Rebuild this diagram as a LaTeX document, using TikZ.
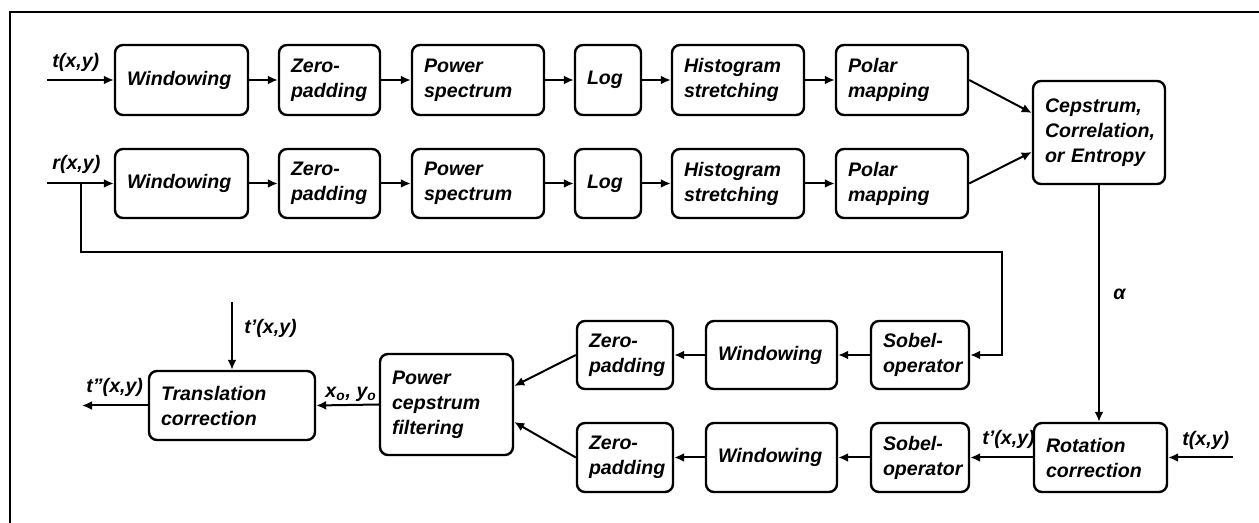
\documentclass[tikz,border=0pt]{standalone}
\usepackage{fontspec}
\setmainfont{Liberation Sans}
\usetikzlibrary{arrows.meta,calc}
\begin{document}
\begin{tikzpicture}[x=0.5pt,y=-0.5pt,
  font=\fontsize{9.8}{12.5}\selectfont\bfseries\itshape,
  box/.style={draw, line width=1.2pt, rounded corners=4pt, align=left, inner xsep=6pt, inner ysep=0pt},
  arr/.style={line width=1pt, -{Latex[length=5pt,width=4.5pt]}},
  lab/.style={anchor=base west, inner sep=0pt}]
\useasboundingbox (0,0) rectangle (1259,523);
\draw[line width=1pt] (10,523) -- (10,12) -- (1259,12);
% row 1
\node[box, text width=54.5pt, minimum height=35pt] (w1) at (181.5,80) {Windowing};
\node[box, text width=38.5pt, minimum height=35pt] (z1) at (329.5,80) {Zero-\\padding};
\node[box, text width=54pt, minimum height=35pt] (p1) at (478,80) {Power\\spectrum};
\node[box, text width=21pt, minimum height=35pt] (l1) at (608,80) {Log};
\node[box, text width=54pt, minimum height=35pt] (h1) at (738,80) {Histogram\\stretching};
\node[box, text width=54pt, minimum height=35pt] (m1) at (902,80) {Polar\\mapping};
% row 2
\node[box, text width=54.5pt, minimum height=34.5pt] (w2) at (181.5,183.5) {Windowing};
\node[box, text width=38.5pt, minimum height=34.5pt] (z2) at (329.5,183.5) {Zero-\\padding};
\node[box, text width=54pt, minimum height=34.5pt] (p2) at (478,183.5) {Power\\spectrum};
\node[box, text width=21pt, minimum height=34.5pt] (l2) at (608,183.5) {Log};
\node[box, text width=54pt, minimum height=34.5pt] (h2) at (738,183.5) {Histogram\\stretching};
\node[box, text width=54pt, minimum height=34.5pt] (m2) at (902,183.5) {Polar\\mapping};
\node[box, text width=54pt, minimum height=51.5pt] (cep) at (1099,132.5) {Cepstrum,\\Correlation,\\or Entropy};
% row 3
\node[box, text width=37pt, minimum height=34pt] (s1) at (920,355) {Sobel-\\operator};
\node[box, text width=53.5pt, minimum height=34pt] (wi3) at (771.5,355) {Windowing};
\node[box, text width=36pt, minimum height=34pt] (z3) at (625,355) {Zero-\\padding};
% row 4
\node[box, text width=37pt, minimum height=34.5pt] (s2) at (920,457.5) {Sobel-\\operator};
\node[box, text width=53.5pt, minimum height=34.5pt] (wi4) at (771.5,457.5) {Windowing};
\node[box, text width=36pt, minimum height=34.5pt] (z4) at (625,457.5) {Zero-\\padding};
\node[box, text width=54.5pt, minimum height=34.5pt] (rot) at (1100.5,457.5) {Rotation\\correction};
\node[box, text width=54.5pt, minimum height=50.5pt] (pcf) at (446.5,404.5) {Power\\cepstrum\\filtering};
\node[box, text width=71pt, minimum height=34.5pt] (tc) at (232,405.5) {Translation\\correction};
% connectors row 1
\coordinate (tin) at (47,80);
\draw[arr] (tin) -- (w1.west);
\draw[arr] (w1.east) -- (z1.west);
\draw[arr] (z1.east) -- (p1.west);
\draw[arr] (p1.east) -- (l1.west);
\draw[arr] (l1.east) -- (h1.west);
\draw[arr] (h1.east) -- (m1.west);
% connectors row 2
\coordinate (rin) at (47,183.5);
\coordinate (br) at (81,183.5);
\draw[arr] (rin) -- (w2.west);
\draw[arr] (w2.east) -- (z2.west);
\draw[arr] (z2.east) -- (p2.west);
\draw[arr] (p2.east) -- (l2.west);
\draw[arr] (l2.east) -- (h2.west);
\draw[arr] (h2.east) -- (m2.west);
\draw[arr] (m1.east) -- ($(cep.west)+(0,-19.5)$);
\draw[arr] (m2.east) -- ($(cep.west)+(0,19.5)$);
% feedback
\coordinate (fb) at (1002,252);
\draw[arr] (br) |- (fb) |- (s1.east);
\draw[arr] (cep.south) -- (cep.south |- rot.north);
\node[lab] (alpha) at (1113,300) {α};
\coordinate (tin2) at (1233,457.5);
\draw[arr] (tin2) -- (rot.east);
\draw[arr] (rot.west) -- (s2.east);
\draw[arr] (s2.west) -- (wi4.east);
\draw[arr] (wi4.west) -- (z4.east);
\draw[arr] (s1.west) -- (wi3.east);
\draw[arr] (wi3.west) -- (z3.east);
\draw[arr] (z3.west) -- ($(pcf.east)+(0,-18.5)$);
\draw[arr] (z4.west) -- ($(pcf.east)+(0,17.5)$);
\draw[arr] (pcf.west) -- (tc.east);
\coordinate (tout) at (82,405.5);
\draw[arr] (tc.west) -- (tout);
\coordinate (tpin) at (232,302);
\draw[arr] (tpin) -- (tc.north);
% labels
\node[lab] (lt) at (52,68) {t(x,y)};
\node[lab] (lr) at (52,170) {r(x,y)};
\node[lab] (ltp) at (244,334) {t'(x,y)};
\node[lab] (ltpp) at (86,393) {t''(x,y)};
\node[lab] (lxy) at (325,398) {x\textsubscript{o}, y\textsubscript{o}};
\node[lab] (ltp2) at (982,445) {t'(x,y)};
\node[lab] (lt2) at (1182,446) {t(x,y)};
\end{tikzpicture}
\end{document}
